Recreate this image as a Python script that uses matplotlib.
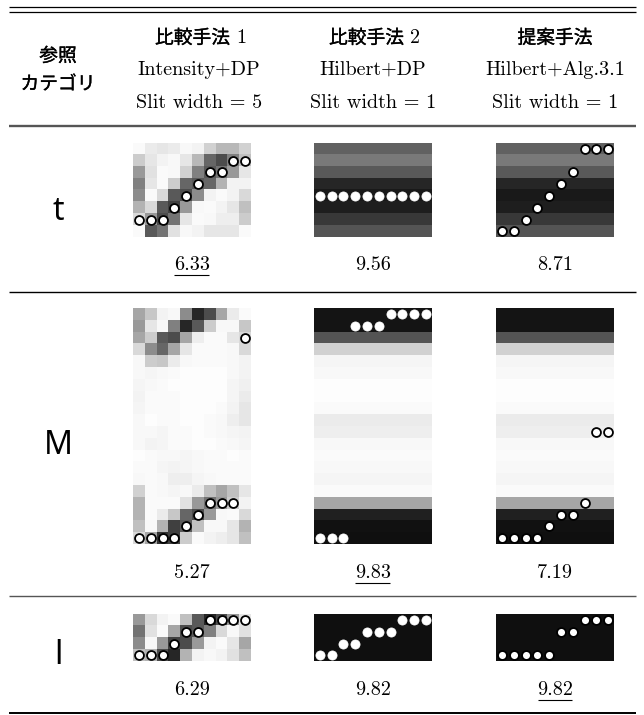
import numpy as np
import matplotlib
matplotlib.use('Agg')
import matplotlib.pyplot as plt
import matplotlib.patheffects as pe

plt.rcParams['mathtext.fontset'] = 'cm'

# table content
methods_jp = ['比較手法', '比較手法', '提案手法']
methods_no = ['1', '2', '']
methods_en = ['Intensity+DP', 'Hilbert+DP', 'Hilbert+Alg.3.1']
slit_labels = ['Slit width = 5', 'Slit width = 1', 'Slit width = 1']
categories = ['t', 'M', 'l']
scores = [[6.33, 9.56, 8.71],
          [5.27, 9.83, 7.19],
          [6.29, 9.82, 9.82]]
best_col = [0, 1, 2]

# --- intensity images (0 = black, 1 = white) ---
t_intensity = [
    [0.98, 0.92, 0.90, 0.92, 0.97, 0.95, 0.82, 0.72, 0.72, 0.82],
    [0.80, 0.90, 0.95, 0.97, 0.90, 0.72, 0.40, 0.30, 0.50, 0.75],
    [0.60, 0.88, 0.98, 0.97, 0.82, 0.50, 0.35, 0.45, 0.60, 0.90],
    [0.50, 0.90, 0.98, 0.80, 0.40, 0.35, 0.40, 0.70, 0.95, 0.95],
    [0.55, 0.98, 0.85, 0.35, 0.30, 0.55, 0.95, 0.98, 0.95, 0.85],
    [0.70, 0.85, 0.35, 0.25, 0.60, 0.97, 0.98, 0.95, 0.90, 0.75],
    [0.85, 0.60, 0.30, 0.45, 0.90, 0.98, 0.97, 0.93, 0.93, 0.80],
    [0.98, 0.35, 0.45, 0.88, 0.97, 0.95, 0.90, 0.90, 0.90, 0.98],
]
M_intensity = [
    [0.65, 0.78, 0.95, 0.97, 0.55, 0.15, 0.30, 0.65, 0.92, 0.98],
    [0.60, 0.90, 0.97, 0.50, 0.15, 0.35, 0.80, 0.97, 0.97, 0.78],
    [0.65, 0.80, 0.35, 0.30, 0.65, 0.93, 0.98, 0.98, 0.90, 0.85],
    [0.85, 0.55, 0.40, 0.65, 0.90, 0.98, 0.98, 0.98, 0.97, 0.85],
    [0.97, 0.80, 0.78, 0.92, 0.97, 0.98, 0.98, 0.98, 0.97, 0.95],
    [0.97, 0.96, 0.97, 0.98, 0.99, 0.99, 0.99, 0.99, 0.97, 0.95],
    [0.96, 0.97, 0.98, 0.99, 0.99, 0.99, 0.99, 0.99, 0.96, 0.94],
    [0.95, 0.98, 0.98, 0.98, 0.99, 0.99, 0.99, 0.99, 0.96, 0.92],
    [0.96, 0.98, 0.98, 0.98, 0.99, 0.99, 0.99, 0.98, 0.95, 0.90],
    [0.97, 0.99, 0.98, 0.98, 0.99, 0.99, 0.98, 0.97, 0.93, 0.90],
    [0.97, 0.97, 0.96, 0.98, 0.98, 0.99, 0.98, 0.97, 0.96, 0.95],
    [0.97, 0.95, 0.96, 0.98, 0.98, 0.99, 0.99, 0.98, 0.97, 0.96],
    [0.99, 0.98, 0.97, 0.97, 0.96, 0.97, 0.98, 0.98, 0.99, 0.98],
    [0.98, 0.98, 0.96, 0.95, 0.96, 0.97, 0.98, 0.98, 0.98, 0.98],
    [0.97, 0.98, 0.97, 0.93, 0.93, 0.96, 0.97, 0.98, 0.98, 0.98],
    [0.82, 0.98, 0.97, 0.96, 0.97, 0.92, 0.75, 0.65, 0.75, 0.90],
    [0.70, 0.98, 0.98, 0.98, 0.88, 0.60, 0.45, 0.60, 0.80, 0.95],
    [0.70, 0.98, 0.92, 0.78, 0.40, 0.30, 0.60, 0.97, 0.98, 0.85],
    [0.75, 0.97, 0.70, 0.25, 0.35, 0.75, 0.97, 0.97, 0.90, 0.70],
    [0.85, 0.65, 0.20, 0.25, 0.80, 0.98, 0.95, 0.93, 0.90, 0.75],
]
l_intensity = [
    [0.60, 0.85, 0.95, 0.98, 0.75, 0.35, 0.15, 0.30, 0.60, 0.90],
    [0.45, 0.88, 0.98, 0.65, 0.30, 0.35, 0.50, 0.85, 0.97, 0.88],
    [0.55, 0.97, 0.60, 0.25, 0.30, 0.60, 0.95, 0.98, 0.90, 0.65],
    [0.75, 0.70, 0.30, 0.15, 0.70, 0.95, 0.97, 0.95, 0.88, 0.75],
]

# --- Hilbert images: row profiles (each row is uniform across columns) ---
t_hilbert_rows = [0.38, 0.48, 0.35, 0.15, 0.10, 0.12, 0.22, 0.33]
M_hilbert_rows = [0.08, 0.08, 0.33, 0.82, 0.96, 0.97, 0.99, 0.99, 0.98, 0.92,
                  0.93, 0.97, 0.98, 0.97, 0.96, 0.98, 0.65, 0.13, 0.07, 0.06]
l_hilbert_rows = [0.06, 0.06, 0.06, 0.06]

# --- detected paths (column index, row index) ---
t_path_1 = ([0, 1, 2, 3, 4, 5, 6, 7, 8, 9], [6, 6, 6, 5, 4, 3, 2, 2, 1, 1])
t_path_2 = ([0, 1, 2, 3, 4, 5, 6, 7, 8, 9], [4, 4, 4, 4, 4, 4, 4, 4, 4, 4])
t_path_3 = ([0, 1, 2, 3, 4, 5, 6, 7, 8, 9], [7, 7, 6, 5, 4, 3, 2, 0, 0, 0])
M_path_1 = ([0, 1, 2, 3, 4, 5, 6, 7, 8, 9], [19, 19, 19, 19, 18, 17, 16, 16, 16, 2])
M_path_2 = ([0, 1, 2, 3, 4, 5, 6, 7, 8, 9], [19, 19, 19, 1, 1, 1, 0, 0, 0, 0])
M_path_3 = ([0, 1, 2, 3, 4, 5, 6, 7, 8, 9], [19, 19, 19, 19, 18, 17, 17, 16, 10, 10])
l_path_1 = ([0, 1, 2, 3, 4, 5, 6, 7, 8, 9], [3, 3, 3, 2, 1, 1, 0, 0, 0, 0])
l_path_2 = ([0, 1, 2, 3, 4, 5, 6, 7, 8, 9], [3, 3, 2, 2, 1, 1, 1, 0, 0, 0])
l_path_3 = ([0, 1, 2, 3, 4, 5, 6, 7, 8, 9], [3, 3, 3, 3, 3, 1, 1, 0, 0, 0])

W, H = 644, 715
fig = plt.figure(figsize=(W / 100, H / 100), dpi=100)
bg = fig.add_axes([0, 0, 1, 1])
bg.set_xlim(0, W)
bg.set_ylim(H, 0)
bg.axis('off')

jp = 'Noto Sans CJK JP'
serif = 'cmr10'
thick = [pe.withStroke(linewidth=0.25, foreground='black')]
col_x = [58, 199, 373, 555]
img_left = [133, 314, 496]
img_w = 118
cell = 11.8
row_top = [143, 308, 614]

# rules
bg.hlines([6.5, 11.5], 9, 636, color='black', lw=0.9)
bg.hlines(126, 9, 636, color='#555555', lw=1.7)
bg.hlines(292, 9, 636, color='black', lw=1.0)
bg.hlines(596, 9, 636, color='#555555', lw=1.0)
bg.hlines(713, 9, 636, color='black', lw=1.4)

# header
bg.text(col_x[0], 56, '参照', family=jp, fontsize=13.5, ha='center', va='center',
        path_effects=thick)
bg.text(col_x[0], 84, 'カテゴリ', family=jp, fontsize=13.5, ha='center', va='center',
        path_effects=thick)
for i in range(3):
    if methods_no[i]:
        # japanese part + serif digit, centred as a pair
        bg.text(col_x[i + 1] + 31, 38, methods_jp[i], family=jp, fontsize=13.5,
                ha='right', va='center', path_effects=thick)
        bg.text(col_x[i + 1] + 37, 38, methods_no[i], family=serif, fontsize=14.5,
                ha='left', va='center')
    else:
        bg.text(col_x[i + 1], 38, methods_jp[i], family=jp, fontsize=13.5,
                ha='center', va='center', path_effects=thick)
    bg.text(col_x[i + 1], 70, methods_en[i], family=serif, fontsize=14.5,
            ha='center', va='center')
    bg.text(col_x[i + 1], 103, slit_labels[i], family=serif, fontsize=14.5,
            ha='center', va='center')


def img_axes(x0, y0, w, h):
    return fig.add_axes([x0 / W, 1 - (y0 + h) / H, w / W, h / H])


def draw_cell(ax, img, path, style):
    ax.imshow(img, cmap='gray', vmin=0, vmax=1, aspect='auto', interpolation='nearest')
    if style == 'open':
        ax.plot(path[0], path[1], 'o', ms=6.4, mfc='white', mec='black', mew=1.3)
    else:
        ax.plot(path[0], path[1], 'o', ms=6.6, mfc='white', mec='white', mew=0.5)
    ax.set_xlim(-0.5, np.shape(img)[1] - 0.5)
    ax.set_ylim(np.shape(img)[0] - 0.5, -0.5)
    ax.axis('off')


rows = [
    (t_intensity, t_hilbert_rows, [t_path_1, t_path_2, t_path_3]),
    (M_intensity, M_hilbert_rows, [M_path_1, M_path_2, M_path_3]),
    (l_intensity, l_hilbert_rows, [l_path_1, l_path_2, l_path_3]),
]
label_y = [212, 445, 655]
score_y = [265, 573, 690]

for r, (inten, hil_rows, paths) in enumerate(rows):
    hil = np.repeat(np.array(hil_rows)[:, None], 10, axis=1)
    n = len(hil_rows)
    imgs = [np.array(inten), hil, hil]
    styles = ['open', 'filled', 'open']
    for c in range(3):
        ax = img_axes(img_left[c], row_top[r], img_w, n * cell)
        draw_cell(ax, imgs[c], paths[c], styles[c])
    bg.text(col_x[0], label_y[r], categories[r], family='Noto Sans', fontsize=23,
            ha='center', va='center')
    for c in range(3):
        t = bg.text(img_left[c] + img_w / 2, score_y[r], '%.2f' % scores[r][c],
                    family=serif, fontsize=14.5, ha='center', va='center')
        if c == best_col[r]:
            fig.canvas.draw()
            bb = t.get_window_extent().transformed(bg.transData.inverted())
            bg.hlines(bb.y0 + 1.5, bb.x0 + 0.5, bb.x1 - 0.5, color='black', lw=0.8)

fig.savefig('out.png', dpi=100)
